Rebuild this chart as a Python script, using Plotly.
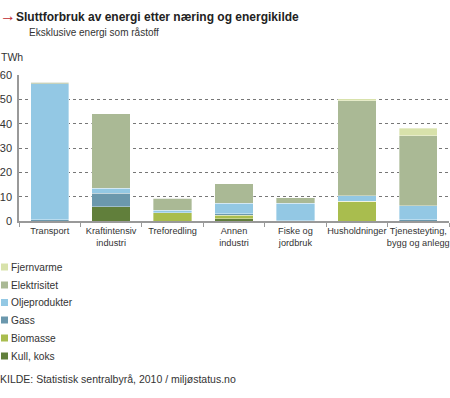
import plotly.graph_objects as go

categories = ["Transport", "Kraftintensiv<br>industri", "Treforedling", "Annen<br>industri",
              "Fiske og<br>jordbruk", "Husholdninger", "Tjenesteyting,<br>bygg og anlegg"]

kull = [0.0, 5.8, 0.0, 1.0, 0.0, 0.0, 0.0]
biomasse = [0.0, 0.0, 3.3, 1.3, 0.0, 8.2, 0.0]
gass = [0.6, 5.6, 0.0, 0.7, 0.2, 0.0, 0.5]
oljeprodukter = [55.8, 2.0, 1.2, 4.3, 7.0, 2.2, 5.8]
elektrisitet = [0.6, 30.6, 4.8, 8.0, 2.4, 39.0, 28.8]
fjernvarme = [0.0, 0.0, 0.0, 0.0, 0.0, 0.9, 3.0]

series_names = ["Kull, koks", "Biomasse", "Gass", "Oljeprodukter", "Elektrisitet", "Fjernvarme"]
series_values = [kull, biomasse, gass, oljeprodukter, elektrisitet, fjernvarme]
series_colors = ["#617f3b", "#a9bd4e", "#6b98ad", "#93c8e4", "#aab995", "#d8e2ab"]

y_ticks = [0, 10, 20, 30, 40, 50, 60]

FONT = "Liberation Sans"

fig = go.Figure()
for name, vals, col in zip(series_names, series_values, series_colors):
    fig.add_trace(go.Bar(x=categories, y=vals, name=name, marker_color=col,
                         marker_line=dict(color="rgba(255,255,255,0.6)", width=0.6)))

W, H = 450, 398
ml, mr, mt, mb = 19, 1, 75, 177
PW, PH = W - ml - mr, H - mt - mb


def px(x):
    return (x - ml) / PW


def py(y):
    return (H - mb - y) / PH


fig.update_layout(
    width=W, height=H, barmode="stack", bargap=0.375,
    margin=dict(l=ml, r=mr, t=mt, b=mb, pad=0, autoexpand=False),
    paper_bgcolor="white", plot_bgcolor="white",
    font=dict(family=FONT, size=11, color="#333"),
    showlegend=False,
)
fig.update_yaxes(range=[0, 60], tickvals=y_ticks, showgrid=True, gridcolor="#777",
                 griddash="dot", gridwidth=1, showline=True, linecolor="#999", linewidth=1.5,
                 ticks="", ticklen=0, tickfont=dict(size=11, color="#333", family=FONT),
                 zeroline=False, ticklabelstandoff=3, automargin=False)
fig.update_xaxes(showline=True, linecolor="#999", linewidth=2, ticks="outside",
                 tickson="boundaries", ticklen=4, tickcolor="#999", tickangle=0,
                 tickfont=dict(size=9.2, color="#333", family=FONT), showgrid=False,
                 automargin=False)


def text_ann(text, x, y, size=10, color="#333"):
    return dict(text=text, x=px(x), y=py(y), xref="paper", yref="paper", xanchor="left",
                yanchor="middle", showarrow=False, font=dict(size=size, color=color, family=FONT))


ann = [
    text_ann("<b>→</b>", -2, 16, size=16, color="#c0272d"),
    text_ann("<b>Sluttforbruk av energi etter næring og energikilde</b>", 14, 17, size=12, color="#222"),
    text_ann("Eksklusive energi som råstoff", 27, 33, size=10),
    text_ann("TWh", -1, 57, size=10.5),
    text_ann("KILDE: Statistisk sentralbyrå, 2010 / miljøstatus.no", -2, 379, size=10.5),
]

shapes = []
legend_rows = [267, 285, 302.5, 320, 338, 356]
for i, (name, col) in enumerate(zip(reversed(series_names), reversed(series_colors))):
    yc = legend_rows[i]
    shapes.append(dict(type="rect", xref="paper", yref="paper", x0=px(1), x1=px(8),
                       y0=py(yc + 3.5), y1=py(yc - 3.5), fillcolor=col, line=dict(width=0)))
    ann.append(text_ann(name, 9, yc, size=10.2))

fig.update_layout(annotations=ann, shapes=shapes)
fig.write_html("out.html", config={"displayModeBar": False},
               post_script="document.body.style.margin='0';")
